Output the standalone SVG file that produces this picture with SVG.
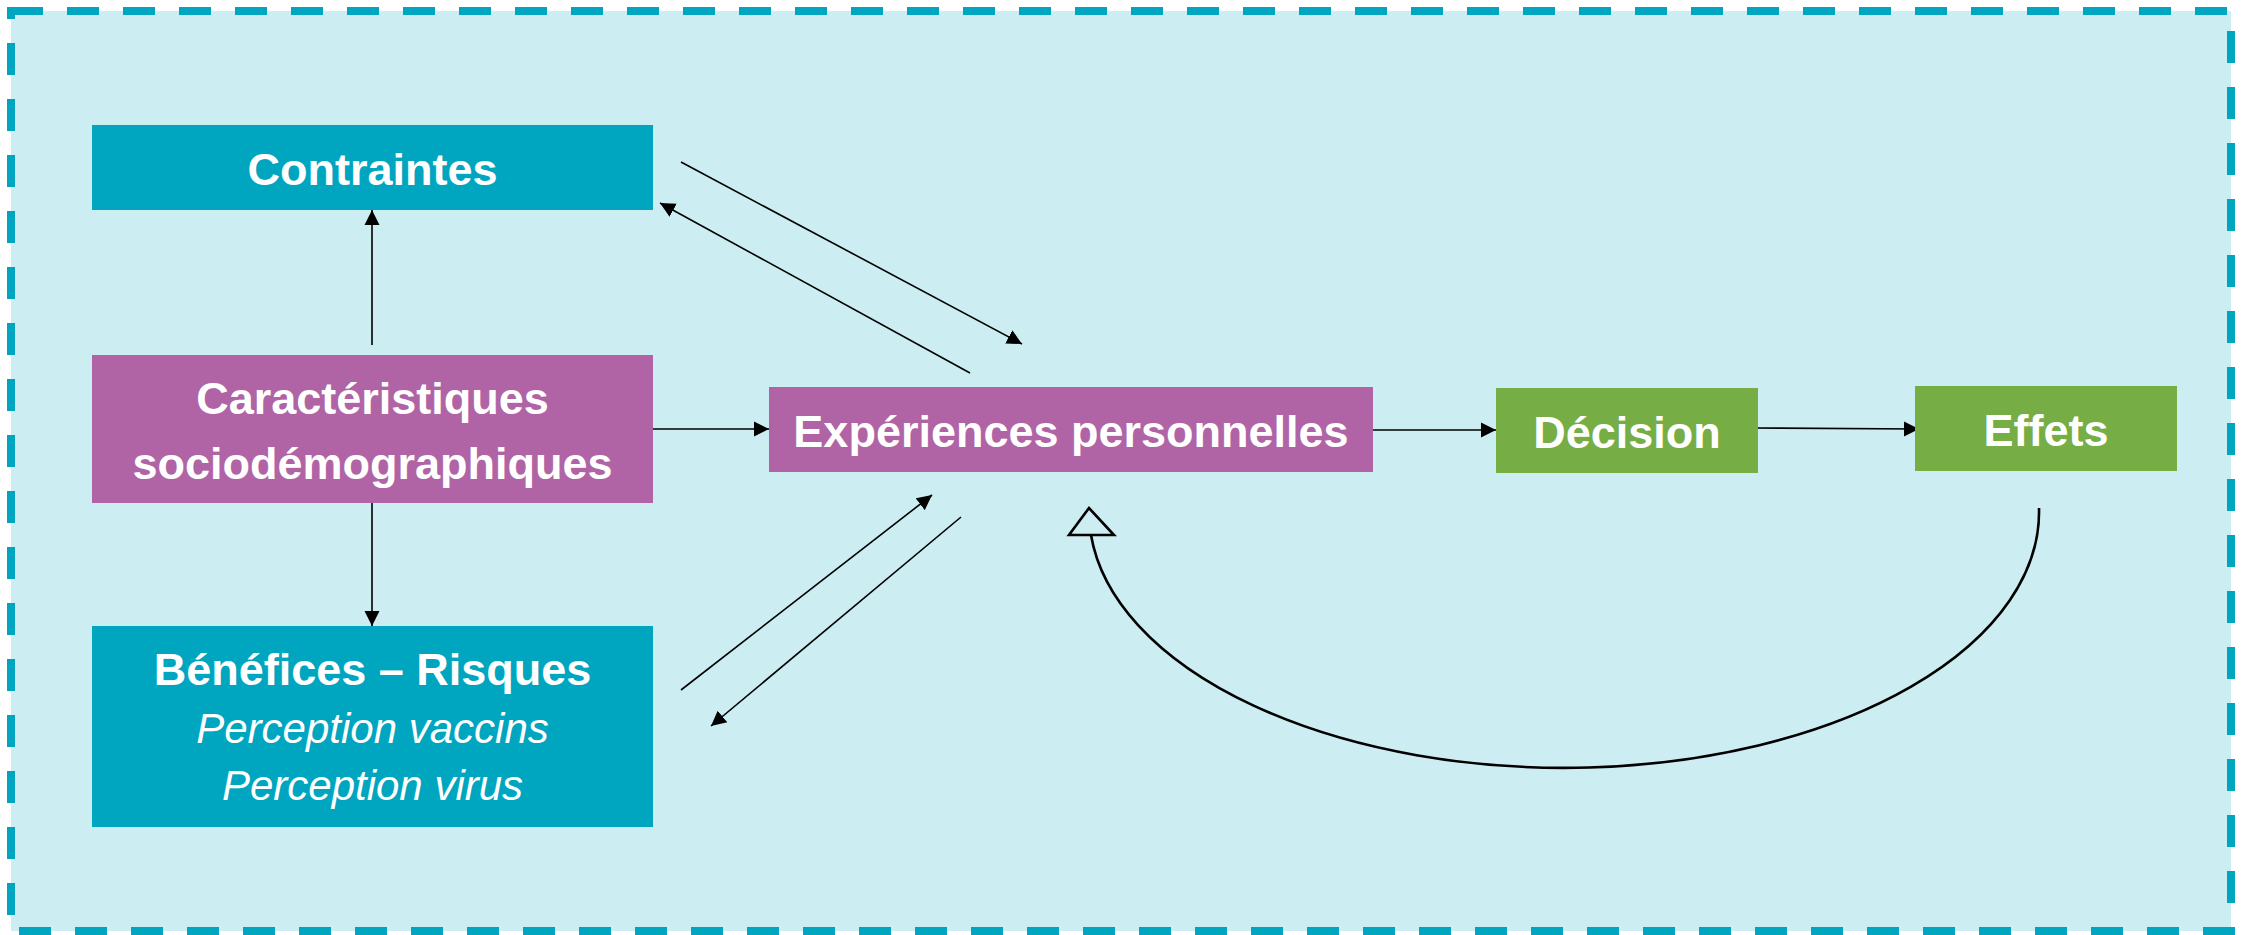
<svg xmlns="http://www.w3.org/2000/svg" width="2244" height="935" viewBox="0 0 2244 935">
<style>
.bg{fill:#CCEDF1;stroke:#00A6C0;stroke-width:8;stroke-dasharray:32 24}
.teal{fill:#00A6C0}
.purple{fill:#B064A5}
.green{fill:#77AD45}
.t{font-family:"Liberation Sans",Arial,sans-serif;font-weight:bold;font-size:45px;fill:#FFFFFF;text-anchor:middle}
.ti{font-family:"Liberation Sans",Arial,sans-serif;font-style:italic;font-size:42px;fill:#FFFFFF;text-anchor:middle}
.c{stroke:#000000;stroke-width:1.6;fill:none;marker-end:url(#arr)}
.fb{stroke:#000000;stroke-width:2.6;fill:none}
.openhead{fill:#CCEDF1;stroke:#000000;stroke-width:2.6;stroke-linejoin:miter}
</style>
<defs>
<marker id="arr" markerUnits="userSpaceOnUse" markerWidth="16" markerHeight="16" refX="15" refY="8" orient="auto" viewBox="0 0 16 16">
<path d="M0,0.5 L15,8 L0,15.5 z" fill="#000000"/>
</marker>
</defs>
<rect class="bg" x="11" y="11" width="2220" height="920"/>
<g id="connectors">
<line class="c" x1="372" y1="345" x2="372" y2="210"/>
<line class="c" x1="372" y1="503" x2="372" y2="626"/>
<line class="c" x1="653" y1="429" x2="769" y2="429"/>
<line class="c" x1="1373" y1="430" x2="1496" y2="430"/>
<line class="c" x1="1753" y1="428" x2="1919" y2="429"/>
<line class="c" x1="681" y1="162" x2="1022" y2="344"/>
<line class="c" x1="970" y1="373" x2="660" y2="203"/>
<line class="c" x1="681" y1="690" x2="932" y2="495"/>
<line class="c" x1="961" y1="517" x2="711" y2="726"/>
<path class="fb" d="M2039,508 A475,256 0 0 1 1091,535"/>
<polygon class="openhead" points="1089,508 1069,535 1114,535"/>
</g>
<g id="contraintes">
<rect class="teal" x="92" y="125" width="561" height="85"/>
<text class="t" x="372.5" y="185">Contraintes</text>
</g>
<g id="caracteristiques">
<rect class="purple" x="92" y="355" width="561" height="148"/>
<text class="t" x="372.5" y="414">Caractéristiques</text>
<text class="t" x="372.5" y="479">sociodémographiques</text>
</g>
<g id="benefices">
<rect class="teal" x="92" y="626" width="561" height="201"/>
<text class="t" x="372.5" y="685">Bénéfices – Risques</text>
<text class="ti" x="372.5" y="743">Perception vaccins</text>
<text class="ti" x="372.5" y="800">Perception virus</text>
</g>
<g id="experiences">
<rect class="purple" x="769" y="387" width="604" height="85"/>
<text class="t" x="1071" y="447">Expériences personnelles</text>
</g>
<g id="decision">
<rect class="green" x="1496" y="388" width="262" height="85"/>
<text class="t" x="1627" y="448">Décision</text>
</g>
<g id="effets">
<rect class="green" x="1915" y="386" width="262" height="85"/>
<text class="t" x="2046" y="446">Effets</text>
</g>
</svg>
